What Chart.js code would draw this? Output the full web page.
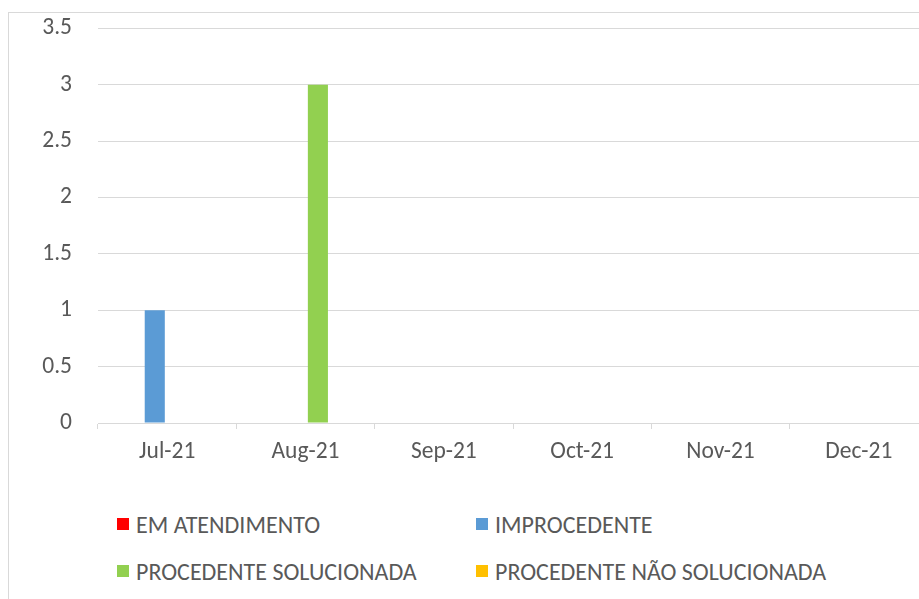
<!DOCTYPE html>
<html>
<head>
<meta charset="utf-8">
<script src="https://cdn.jsdelivr.net/npm/chart.js@4/dist/chart.umd.min.js"></script>
<style>
  html, body { margin: 0; padding: 0; width: 919px; height: 599px; overflow: hidden; background: #ffffff; }
  #frame { position: absolute; left: 8px; top: 12px; width: 1000px; height: 700px;
           border-left: 1px solid #d9d9d9; border-top: 1px solid #d9d9d9; }
  #wrap { position: absolute; left: 0; top: 0; line-height: 0; }
  #legend { position: absolute; left: 0; top: 0; font-family: Carlito, Calibri, "Open Sans", sans-serif;
            font-size: 24px; color: #595959; }
  .item { position: absolute; white-space: nowrap; display: flex; align-items: center; }
  .sw { display: inline-block; width: 12px; height: 12px; margin-right: 7px; }
</style>
</head>
<body>
<div id="frame"></div>
<div id="wrap"><canvas id="c" width="935" height="473"></canvas></div>
<div id="legend"></div>
<script>
const categories = ["Jul-21", "Aug-21", "Sep-21", "Oct-21", "Nov-21", "Dec-21"];
const seriesNames = ["EM ATENDIMENTO", "IMPROCEDENTE", "PROCEDENTE SOLUCIONADA", "PROCEDENTE NÃO SOLUCIONADA"];
const emAtendimento = [0, 0, 0, 0, 0, 0];
const improcedente = [1, 0, 0, 0, 0, 0];
const procedenteSolucionada = [0, 3, 0, 0, 0, 0];
const procedenteNaoSolucionada = [0, 0, 0, 0, 0, 0];
const seriesColors = ["#FF0000", "#5B9BD5", "#92D050", "#FFC000"];
const yTicks = [0, 0.5, 1, 1.5, 2, 2.5, 3, 3.5];

const values = [emAtendimento, improcedente, procedenteSolucionada, procedenteNaoSolucionada];
const FONT = "Carlito, Calibri, 'Open Sans', sans-serif";
const TEXT = "#595959";
const GRID = "#d9d9d9";

const chart = new Chart(document.getElementById("c"), {
  type: "bar",
  data: {
    labels: categories,
    datasets: seriesNames.map((n, i) => ({
      label: n,
      data: values[i],
      backgroundColor: seriesColors[i],
      borderWidth: 0,
      barPercentage: 0.81,
      categoryPercentage: 0.717
    }))
  },
  options: {
    responsive: false,
    animation: false,
    layout: { padding: { top: 28.5, right: 7, bottom: 0, left: 0 } },
    plugins: { legend: { display: false }, tooltip: { enabled: false } },
    scales: {
      x: {
        grid: { drawOnChartArea: false, drawTicks: true, tickLength: 6, color: GRID, offset: true },
        border: { color: GRID, width: 1 },
        ticks: { color: TEXT, font: { family: FONT, size: 23.5 }, padding: 9, maxRotation: 0 },
        afterFit: s => { s.height = 50; s.paddingLeft = 0; s.paddingRight = 0; }
      },
      y: {
        min: 0, max: 3.5,
        afterBuildTicks: s => { s.ticks = yTicks.map(v => ({ value: v })); },
        grid: { color: GRID, drawTicks: false, lineWidth: 1 },
        border: { display: false },
        ticks: { color: TEXT, font: { family: FONT, size: 23.5 }, padding: 26,
                 callback: v => String(v) },
        afterFit: s => { s.width = 98; s.paddingTop = 0; s.paddingBottom = 0; }
      }
    }
  }
});

// HTML legend built from the chart's datasets (2 x 2 grid)
const legendEl = document.getElementById("legend");
const colX = [117, 476];
const rowY = [524, 571];
chart.data.datasets.forEach((ds, i) => {
  const it = document.createElement("div");
  it.className = "item";
  const sw = document.createElement("span");
  sw.className = "sw";
  sw.style.background = ds.backgroundColor;
  const tx = document.createElement("span");
  tx.textContent = ds.label;
  it.appendChild(sw); it.appendChild(tx);
  it.style.left = colX[i % 2] + "px";
  it.style.top = (rowY[Math.floor(i / 2)] - 15) + "px";
  it.style.height = "30px";
  legendEl.appendChild(it);
});
</script>
</body>
</html>
